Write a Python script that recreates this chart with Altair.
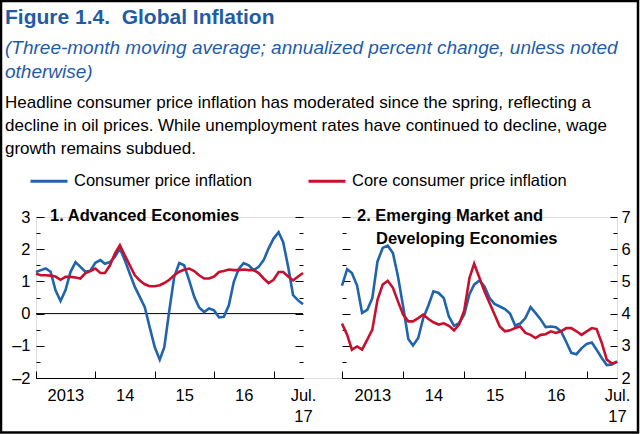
import altair as alt
import pandas as pd

FONT = "Liberation Sans, Arial, Helvetica, sans-serif"
TXT_BLUE = "#1f5ca8"

# ---------------- data ----------------
months = pd.date_range("2013-01-01", periods=55, freq="MS")
series_names = ["Consumer price inflation", "Core consumer price inflation"]
line_colors = ["#1f64ad", "#c8102e"]

adv_cpi = [1.29, 1.35, 1.40, 1.30, 0.72, 0.39, 0.72, 1.29, 1.60, 1.45,
           1.30, 1.33, 1.58, 1.66, 1.55, 1.60, 1.76, 2.02, 1.66, 1.24,
           0.83, 0.52, 0.20, -0.42, -1.04, -1.43, -1.04, 0.10, 1.14, 1.57,
           1.50, 1.03, 0.52, 0.19, 0.05, 0.16, 0.10, -0.12, -0.10, 0.26,
           0.98, 1.39, 1.57, 1.50, 1.35, 1.45, 1.66, 2.02, 2.33, 2.53,
           2.22, 1.45, 0.57, 0.41, 0.29]
adv_core = [1.24, 1.19, 1.19, 1.18, 1.15, 1.05, 1.14, 1.14, 1.12, 1.09,
            1.26, 1.32, 1.40, 1.26, 1.26, 1.50, 1.86, 2.12, 1.81, 1.50,
            1.19, 1.03, 0.91, 0.85, 0.85, 0.88, 0.95, 1.05, 1.19, 1.30,
            1.36, 1.40, 1.32, 1.19, 1.09, 1.09, 1.15, 1.29, 1.32, 1.37,
            1.35, 1.35, 1.37, 1.35, 1.35, 1.26, 1.09, 0.95, 1.05, 1.29,
            1.29, 1.15, 1.03, 1.15, 1.26]
em_cpi = [4.87, 5.38, 5.26, 4.87, 4.02, 4.12, 4.48, 5.62, 6.04, 6.11,
          5.88, 5.16, 4.22, 3.21, 3.01, 3.24, 3.86, 4.25, 4.69, 4.64,
          4.48, 3.91, 3.62, 3.70, 3.97, 4.60, 4.90, 5.03, 4.85, 4.48,
          4.30, 4.22, 4.14, 4.00, 3.63, 3.69, 3.86, 4.20, 4.02, 3.82,
          3.58, 3.60, 3.58, 3.45, 3.12, 2.78, 2.74, 2.92, 3.06, 3.10,
          2.88, 2.62, 2.40, 2.42, 2.52]
em_core = [3.69, 3.34, 2.88, 2.98, 2.88, 3.19, 3.50, 4.43, 4.90, 5.02,
           4.80, 4.38, 3.97, 3.76, 3.76, 3.86, 3.97, 3.83, 3.73, 3.66,
           3.70, 3.62, 3.48, 3.66, 4.10, 5.10, 5.55, 5.12, 4.70, 4.33,
           3.97, 3.60, 3.45, 3.48, 3.55, 3.60, 3.40, 3.34, 3.24, 3.34,
           3.36, 3.45, 3.40, 3.45, 3.55, 3.55, 3.45, 3.34, 3.45, 3.55,
           3.52, 3.09, 2.57, 2.45, 2.50]

adv_major = [-2, -1, 0, 1, 2, 3]
adv_minor = [-1.5, -0.5, 0.5, 1.5, 2.5]
em_major = [2, 3, 4, 5, 6, 7]
em_minor = [2.5, 3.5, 4.5, 5.5, 6.5]
year_starts = [2013, 2014, 2015, 2016, 2017]
label_years = [2013, 2014, 2015, 2016, 2017]

title_text = "Figure 1.4.\u00a0 Global Inflation"
subtitle_lines = ["(Three-month moving average; annualized percent change, unless noted",
                  "otherwise)"]
body_lines = ["Headline consumer price inflation has moderated since the spring, reflecting a",
              "decline in oil prices. While unemployment rates have continued to decline, wage",
              "growth remains subdued."]
panel1_title = "1. Advanced Economies"
panel2_title = ["2. Emerging Market and", "Developing Economies"]


def panel_frame(cpi, core):
    return pd.DataFrame({
        "date": list(months) * 2,
        "value": cpi + core,
        "series": [series_names[0]] * len(cpi) + [series_names[1]] * len(core),
    })


adv = panel_frame(adv_cpi, adv_core)
em = panel_frame(em_cpi, em_core)

# ---------------- layout ----------------
W, H = 581, 161
OX, OY = 36, 217
L_RANGE = [0, 267]
R_RANGE = [306, 581]
TICK_FS = 16.5


def xs(rng):
    return alt.Scale(domain=[alt.DateTime(year=2013, month=1, date=1),
                             alt.DateTime(year=2017, month=7, date=1)], range=rng)


def ys(dom):
    return alt.Scale(domain=dom, nice=False, zero=False)


x_label_axis = alt.Axis(
    orient="bottom",
    values=[alt.DateTime(year=y, month=7, date=1) for y in label_years],
    labelExpr="year(datum.value) == 2017 ? ['Jul.', '17'] : (year(datum.value) == 2013 ? '2013' : timeFormat(datum.value, '%y'))",
    ticks=False, domain=True, domainColor="black", domainWidth=1,
    labelFontSize=TICK_FS, labelColor="black", labelFont=FONT, labelPadding=9,
    labelLineHeight=21, labelFlush=False, labelOverlap=False, grid=False, title=None)

x_tick_axis = alt.Axis(
    orient="bottom",
    values=[alt.DateTime(year=y, month=1, date=1) for y in year_starts],
    labels=False, domain=False, ticks=True, tickSize=7, tickColor="black",
    tickWidth=1, offset=-7, grid=False, title=None)


def y_axis(orient, values, size, offset, labels=False, pad=6):
    kw = dict(orient=orient, values=values, tickSize=size, offset=offset, domain=False,
              ticks=True, tickColor="black", tickWidth=1, grid=False, title=None, labels=labels)
    if labels:
        kw.update(labelExpr="datum.value < 0 ? '\u2013' + abs(datum.value) : '' + datum.value",
                  labelFontSize=TICK_FS, labelFont=FONT, labelColor="black", labelPadding=pad)
    return alt.Axis(**kw)


legend = alt.Legend(title=None, orient="none", legendX=-7, legendY=-56, direction="horizontal",
                    columns=2, symbolType="stroke", symbolSize=1369, symbolStrokeWidth=3,
                    labelFontSize=16.5, labelFont=FONT, labelColor="black", labelOffset=5,
                    columnPadding=50, labelLimit=400, padding=0)
color = alt.Color("series:N", scale=alt.Scale(domain=series_names, range=line_colors), legend=legend)


def text_layer(text, x, y, size, color="black", weight="normal", style="normal"):
    return alt.Chart(pd.DataFrame({"t": [text]})).mark_text(
        align="left", baseline="alphabetic", font=FONT, fontSize=size, color=color,
        fontWeight=weight, fontStyle=style).encode(
        x=alt.value(x - OX), y=alt.value(y - OY), text="t:N")


texts = [text_layer(title_text, 5, 24, 21, TXT_BLUE, "bold")]
for i, line in enumerate(subtitle_lines):
    texts.append(text_layer(line, 5, 54 + 24 * i, 19, TXT_BLUE, "normal", "italic"))
for i, line in enumerate(body_lines):
    texts.append(text_layer(line, 5, 108 + 23 * i, 17))
texts.append(text_layer(panel1_title, 50, 221, 16.5, "black", "bold"))
texts.append(text_layer(panel2_title[0], 357, 221, 16.5, "black", "bold"))
texts.append(text_layer(panel2_title[1], 376, 244, 16.5, "black", "bold"))

frame = alt.Chart(pd.DataFrame({"f": [0]})).mark_rect(filled=False, stroke="black", strokeWidth=2.5).encode(
    x=alt.value(1 - OX), x2=alt.value(638 - OX), y=alt.value(1 - OY), y2=alt.value(432.5 - OY))

# left panel (advanced economies)
LB = alt.Chart(adv).mark_rule(color="black", strokeWidth=1).encode(
    x=alt.X("min(date):T", scale=xs(L_RANGE), axis=x_tick_axis),
    x2="max(date):T",
    y=alt.Y(datum=0, type="quantitative", scale=ys([-2, 3]), axis=y_axis("left", adv_minor, 4, -4)))
LA = alt.Chart(adv).mark_line(strokeWidth=2.6).encode(
    x=alt.X("date:T", scale=xs(L_RANGE), axis=x_label_axis),
    y=alt.Y("value:Q", scale=ys([-2, 3]), axis=y_axis("left", adv_major, 8, -8, True, 6)),
    color=color)
LC = alt.Chart(adv).mark_point(opacity=0).encode(
    x=alt.X("date:T", scale=xs(L_RANGE), axis=None),
    y=alt.Y("value:Q", scale=ys([-2, 3]), axis=y_axis("right", adv_major, 8, -(W - L_RANGE[1]) - 8)))
LD = alt.Chart(adv).mark_point(opacity=0).encode(
    x=alt.X("date:T", scale=xs(L_RANGE), axis=None),
    y=alt.Y("value:Q", scale=ys([-2, 3]), axis=y_axis("right", adv_minor, 4, -(W - L_RANGE[1]) - 4)))

# right panel (emerging market and developing economies)
RA = alt.Chart(em).mark_line(strokeWidth=2.6).encode(
    x=alt.X("date:T", scale=xs(R_RANGE), axis=x_label_axis),
    y=alt.Y("value:Q", scale=ys([2, 7]), axis=y_axis("right", em_major, 7, -7, True, 4)),
    color=color)
RB = alt.Chart(em).mark_point(opacity=0).encode(
    x=alt.X("date:T", scale=xs(R_RANGE), axis=x_tick_axis),
    y=alt.Y("value:Q", scale=ys([2, 7]), axis=y_axis("right", em_minor, 4, -4)))
RC = alt.Chart(em).mark_point(opacity=0).encode(
    x=alt.X("date:T", scale=xs(R_RANGE), axis=None),
    y=alt.Y("value:Q", scale=ys([2, 7]), axis=y_axis("left", em_major, 8, -R_RANGE[0] - 8)))
RD = alt.Chart(em).mark_point(opacity=0).encode(
    x=alt.X("date:T", scale=xs(R_RANGE), axis=None),
    y=alt.Y("value:Q", scale=ys([2, 7]), axis=y_axis("left", em_minor, 4, -R_RANGE[0] - 4)))

chart = alt.layer(frame, *texts, LB, LA, LC, LD, RB, RA, RC, RD).resolve_scale(
    x="independent", y="independent").resolve_axis(
    x="independent", y="independent").properties(
    width=W, height=H,
    padding={"left": OX, "top": OY, "right": 640 - OX - W, "bottom": 434 - OY - H},
    autosize=alt.AutoSizeParams(type="none")).configure_view(stroke=None).configure(
    background="white", font=FONT)

chart.save("out.html", embed_options={"renderer": "svg", "actions": False})
